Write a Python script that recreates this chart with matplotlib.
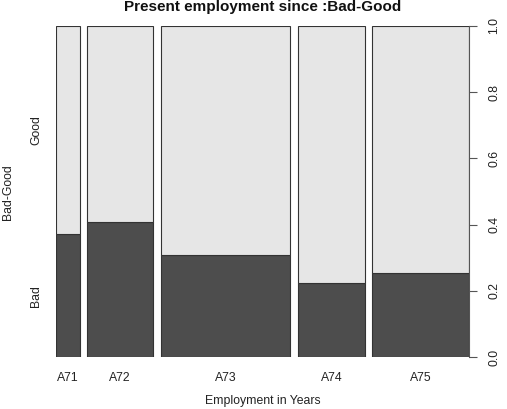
import matplotlib
matplotlib.use("Agg")
import matplotlib.pyplot as plt
import numpy as np

plt.rcParams["font.family"] = ["Liberation Sans", "DejaVu Sans"]

categories = ["A71", "A72", "A73", "A74", "A75"]
counts = [62, 172, 339, 174, 253]
bad_share = [0.371, 0.407, 0.307, 0.224, 0.253]
y_levels = ["Bad", "Good"]
y_ticks = [0.0, 0.2, 0.4, 0.6, 0.8, 1.0]

dark = "#4d4d4d"
light = "#e6e6e6"
edge = "#333333"

counts_arr = np.asarray(counts, dtype=float)
widths = counts_arr / counts_arr.sum()
off = 0.02
lefts = np.concatenate([[0], np.cumsum(widths[:-1] + off)])
bad = np.asarray(bad_share)

fig = plt.figure(figsize=(5.07, 4.09), dpi=100)
ax = fig.add_axes([56 / 507, 52 / 409, 413 / 507, 331 / 409])

ax.bar(lefts, bad, width=widths, align="edge", color=dark, edgecolor=edge, linewidth=0.8)
ax.bar(lefts, 1 - bad, bottom=bad, width=widths, align="edge", color=light,
       edgecolor=edge, linewidth=0.8)

ax.set_xlim(0, 1 + off * (len(counts) - 1))
ax.set_ylim(0, 1)
for side in ["top", "left", "bottom"]:
    ax.spines[side].set_visible(False)
ax.spines["right"].set_color("#555555")
ax.spines["right"].set_linewidth(0.8)

# x labels at bar centres, no ticks
ax.set_xticks(lefts + widths / 2)
ax.set_xticklabels(categories, fontsize=8.8, color="#222222")
ax.tick_params(axis="x", length=0, pad=11)

# right axis with rotated tick labels
ax.yaxis.tick_right()
ax.set_yticks(y_ticks)
ax.set_yticklabels([f"{t:.1f}" for t in y_ticks], rotation=90, va="center",
                   fontsize=8.8, color="#222222")
ax.tick_params(axis="y", length=6, width=0.8, color="#555555", pad=8)

# left side level labels, positioned on the first bar
mids = [bad[0] / 2, (bad[0] + 1) / 2]
for lvl, m in zip(y_levels, mids):
    ax.text(-0.052, m, lvl, rotation=90, ha="center", va="center",
            fontsize=8.8, color="#222222", transform=ax.transData)

fig.text(8 / 507, 1 - 192 / 409, "Bad-Good", rotation=90, ha="center", va="center",
         fontsize=8.8, color="#222222")
fig.text(0.5 * (56 + 469) / 507 + 0.0, 1 - 401 / 409, "Employment in Years",
         ha="center", va="center", fontsize=8.8, color="#222222")
fig.text(0.5 * (56 + 469) / 507, 1 - 7 / 409, "Present employment since :Bad-Good",
         ha="center", va="center", fontsize=11, fontweight="bold", color="#111111")

fig.savefig("out.png", dpi=100)
